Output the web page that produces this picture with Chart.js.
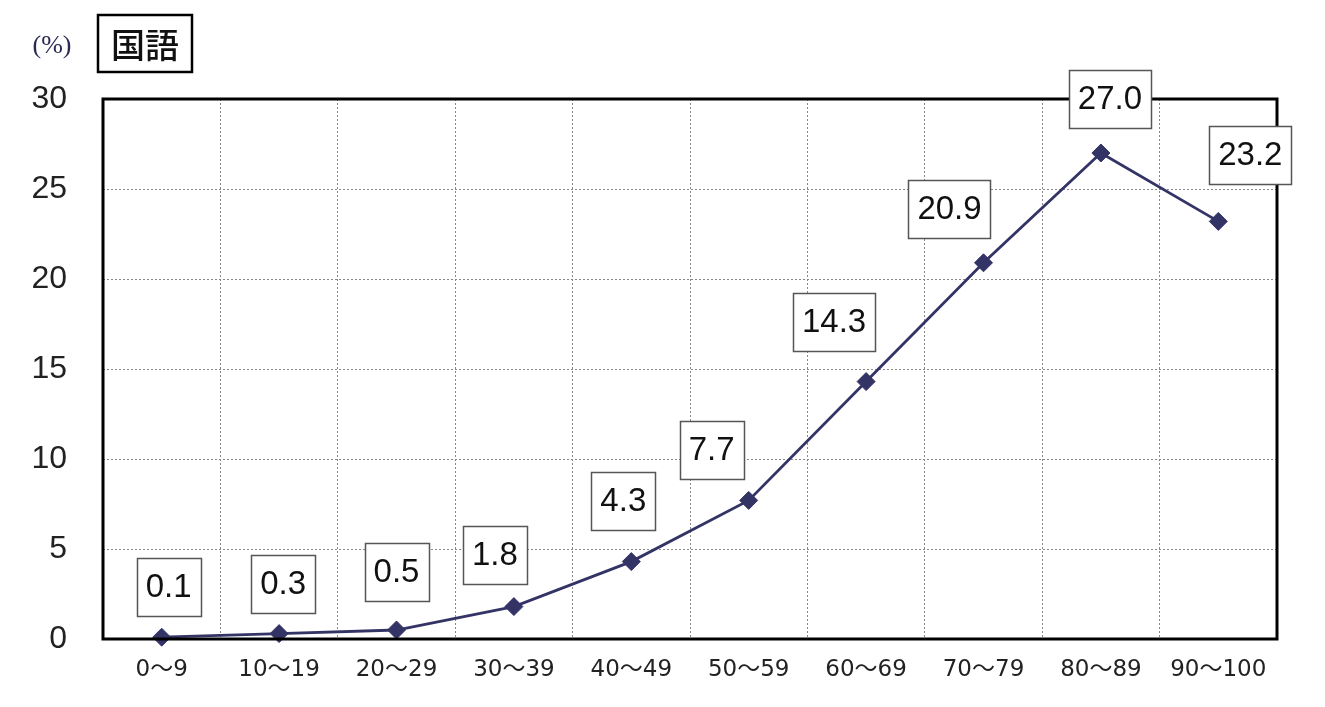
<!DOCTYPE html>
<html><head><meta charset="utf-8">
<script src="https://cdn.jsdelivr.net/npm/chart.js@4/dist/chart.umd.min.js"></script>
<style>html,body{margin:0;padding:0;background:#fff;}#wrap{position:relative;width:1325px;height:707px;}</style>
</head><body><div id="wrap"><canvas id="c" width="1325" height="707"></canvas></div>
<script>
const categories = ['0～9','10～19','20～29','30～39','40～49','50～59','60～69','70～79','80～89','90～100'];
const values = [0.1, 0.3, 0.5, 1.8, 4.3, 7.7, 14.3, 20.9, 27.0, 23.2];
const valueLabels = ['0.1','0.3','0.5','1.8','4.3','7.7','14.3','20.9','27.0','23.2'];
const yTicks = [0, 5, 10, 15, 20, 25, 30];
// label box offsets (style): [dx, gap above point]
const labelOffsets = [[7,21],[4,21],[0,29],[-19,23],[-8,32],[-37,21],[-32,31],[-34,25],[9,25],[32,37]];

const frame = {
  id: 'frame',
  afterDatasetsDraw(chart) {
    const {ctx, chartArea: a} = chart;
    ctx.save();
    ctx.strokeStyle = '#000'; ctx.lineWidth = 3;
    ctx.strokeRect(a.left, a.top, a.right - a.left, a.bottom - a.top);
    // title box
    ctx.lineWidth = 2.5; ctx.fillStyle = '#fff';
    ctx.beginPath(); ctx.rect(98, 15, 94, 57); ctx.fill(); ctx.stroke();
    ctx.fillStyle = '#111'; ctx.font = '500 34px "Noto Sans CJK JP"';
    ctx.textAlign = 'center'; ctx.textBaseline = 'middle';
    ctx.fillText('国語', 145, 45);
    ctx.fillStyle = '#2a2a55'; ctx.font = '26px "Liberation Serif"';
    ctx.fillText('(%)', 52, 46);
    // value labels
    const meta = chart.getDatasetMeta(0);
    ctx.font = '33px "Liberation Sans", Arial';
    meta.data.forEach((pt, i) => {
      const txt = valueLabels[i];
      const w = ctx.measureText(txt).width + 18;
      const h = 58;
      const cx = pt.x + labelOffsets[i][0];
      const bottom = pt.y - labelOffsets[i][1];
      ctx.fillStyle = '#fff'; ctx.strokeStyle = '#555'; ctx.lineWidth = 1.5;
      ctx.beginPath(); ctx.rect(Math.round(cx - w/2)+0.5, Math.round(bottom - h)+0.5, Math.round(w), h); ctx.fill(); ctx.stroke();
      ctx.fillStyle = '#111';
      ctx.fillText(txt, cx, bottom - h/2 + 1);
    });
    ctx.restore();
  }
};

new Chart(document.getElementById('c'), {
  type: 'line',
  data: { labels: categories, datasets: [{
    data: values, borderColor: '#333366', borderWidth: 2.8, backgroundColor: '#333366',
    pointStyle: 'rectRot', pointRadius: 9, pointBorderWidth: 1, pointBorderColor: '#333366',
    tension: 0, clip: false
  }]},
  options: {
    responsive: false, animation: false,
    layout: { padding: { top: 99, right: 48, left: 0, bottom: 0 } },
    plugins: { legend: { display: false }, tooltip: { enabled: false } },
    scales: {
      x: {
        offset: true,
        grid: { offset: true, color: '#888', lineWidth: 1, drawTicks: false },
        border: { display: false, dash: [2, 2] },
        ticks: { color: '#222', font: { size: 23, family: '"DejaVu Sans", "Noto Sans CJK JP"' }, padding: 17, maxRotation: 0, autoSkip: false },
        afterFit(s) { s.height = 68; }
      },
      y: {
        min: 0, max: 30,
        afterBuildTicks(s) { s.ticks = yTicks.map(v => ({ value: v })); },
        grid: { color: '#888', lineWidth: 1, drawTicks: false },
        border: { display: false, dash: [2, 2] },
        ticks: { color: '#222', font: { size: 32, family: '"Liberation Sans", Arial' }, padding: 36 },
        afterFit(s) { s.width = 103; }
      }
    }
  },
  plugins: [frame]
});
</script></body></html>
